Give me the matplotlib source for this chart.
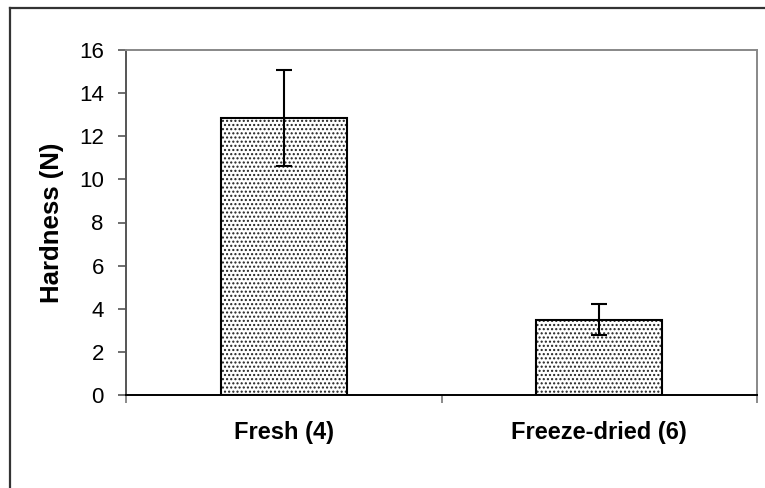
import matplotlib
matplotlib.use("Agg")
import matplotlib.pyplot as plt
from matplotlib.lines import Line2D

plt.rcParams['font.family'] = ['Liberation Sans', 'DejaVu Sans']
plt.rcParams['hatch.linewidth'] = 1.0

# datos
categorias = ["Fresh (4)", "Freeze-dried (6)"]
dureza = [12.85, 3.5]
error = [2.22, 0.7]

W, H = 765, 488
fig = plt.figure(figsize=(W / 100, H / 100), dpi=100)

# marco exterior (solo se ven arriba e izquierda)
fig.add_artist(Line2D([10 / W, 10 / W], [0, 1 - 8 / H], color='#333333', lw=1.6))
fig.add_artist(Line2D([10 / W, 1], [1 - 8 / H, 1 - 8 / H], color='#333333', lw=1.6))

x0, x1, y0, y1 = 126, 757, 50, 395
ax = fig.add_axes([x0 / W, 1 - y1 / H, (x1 - x0) / W, (y1 - y0) / H])

pos = list(range(len(categorias)))
# relleno punteado
plt.bar(pos, dureza, width=0.4, color='white', edgecolor='#222222', hatch='....', linewidth=0)
# contorno + barras de error
plt.bar(pos, dureza, width=0.4, fill=False, edgecolor='black', linewidth=1.5,
        yerr=error, error_kw=dict(ecolor='black', elinewidth=1.5, capsize=5.5, capthick=1.5))

ax.set_xlim(-0.5, 1.5)
ax.set_ylim(0, 16)
ax.set_yticks(range(0, 17, 2))
ax.set_xticks(pos)
ax.set_xticklabels(categorias, fontweight='bold', fontsize=17)
ax.set_xticks([-0.5, 0.5, 1.5], minor=True)
ax.tick_params(axis='x', which='major', length=0, pad=19)
ax.tick_params(axis='x', which='minor', length=6, color='#777777', width=1.2)
ax.tick_params(axis='y', length=6, color='#555555', width=1.2, labelsize=16, pad=10)
ax.set_ylabel('Hardness (N)', fontweight='bold', fontsize=18.5, labelpad=11)

for s in ['top', 'right']:
    ax.spines[s].set_color('#888888')
    ax.spines[s].set_linewidth(1.4)
ax.spines['left'].set_color('#555555')
ax.spines['left'].set_linewidth(1.4)
ax.spines['bottom'].set_color('black')
ax.spines['bottom'].set_linewidth(1.4)

plt.savefig('out.png', dpi=100)
